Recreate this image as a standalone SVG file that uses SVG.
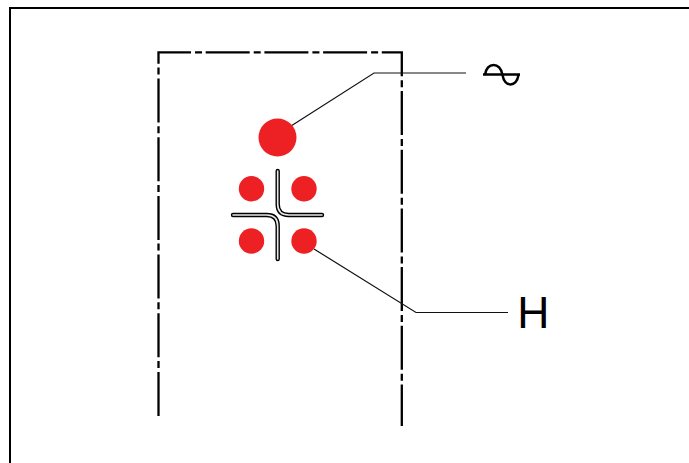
<svg xmlns="http://www.w3.org/2000/svg" width="689" height="463" viewBox="0 0 689 463">
<style>
.bg{fill:#fff}
.frame{fill:none;stroke:#000;stroke-width:2}
.axis{fill:none;stroke:#000;stroke-width:2.3;stroke-dasharray:44 4 7 3.7}
.leader{fill:none;stroke:#111;stroke-width:1.2}
.dot{fill:#ed2024}
.outer{fill:none;stroke:#000;stroke-width:4.4;stroke-linecap:round}
.inner{fill:none;stroke:#e8e8e8;stroke-width:1.6;stroke-linecap:round}
.sym{fill:none;stroke:#000;stroke-width:2.5}
</style>
<rect class="bg" width="689" height="463"/>
<path class="frame" d="M10 463V8H689"/>
<g id="enclosure"><path class="axis" d="M158.5 416V52.3H401.8V426"/></g>
<g id="connectors">
<path class="leader" d="M291 126L374 73H466"/>
<path class="leader" d="M314 249L416 312.5H508"/>
</g>
<g id="terminal-large"><circle class="dot" cx="277.5" cy="137.5" r="19"/></g>
<g id="terminal-tl"><circle class="dot" cx="251.5" cy="188.7" r="12.7"/></g>
<g id="terminal-tr"><circle class="dot" cx="304" cy="188.7" r="12.7"/></g>
<g id="terminal-bl"><circle class="dot" cx="251.5" cy="241" r="12.7"/></g>
<g id="terminal-br"><circle class="dot" cx="304" cy="241" r="12.7"/></g>
<g id="cross">
<path class="outer" d="M277.7 171V204Q277.7 215 288.7 215H322"/>
<path class="outer" d="M233 215H266.7Q277.7 215 277.7 226V259"/>
<path class="inner" d="M277.7 171V204Q277.7 215 288.7 215H322"/>
<path class="inner" d="M233 215H266.7Q277.7 215 277.7 226V259"/>
</g>
<g id="ac-symbol">
<path class="sym" d="M483 74.5H520"/>
<path class="sym" d="M485 75C486.5 61.5 500.5 61.5 502.5 75C504.5 87.5 516.5 87.5 518.5 75"/>
</g>
<g id="label-h"><text x="517.3" y="328" font-family="'Liberation Sans',Arial,sans-serif" font-size="44.5">H</text></g>
</svg>
